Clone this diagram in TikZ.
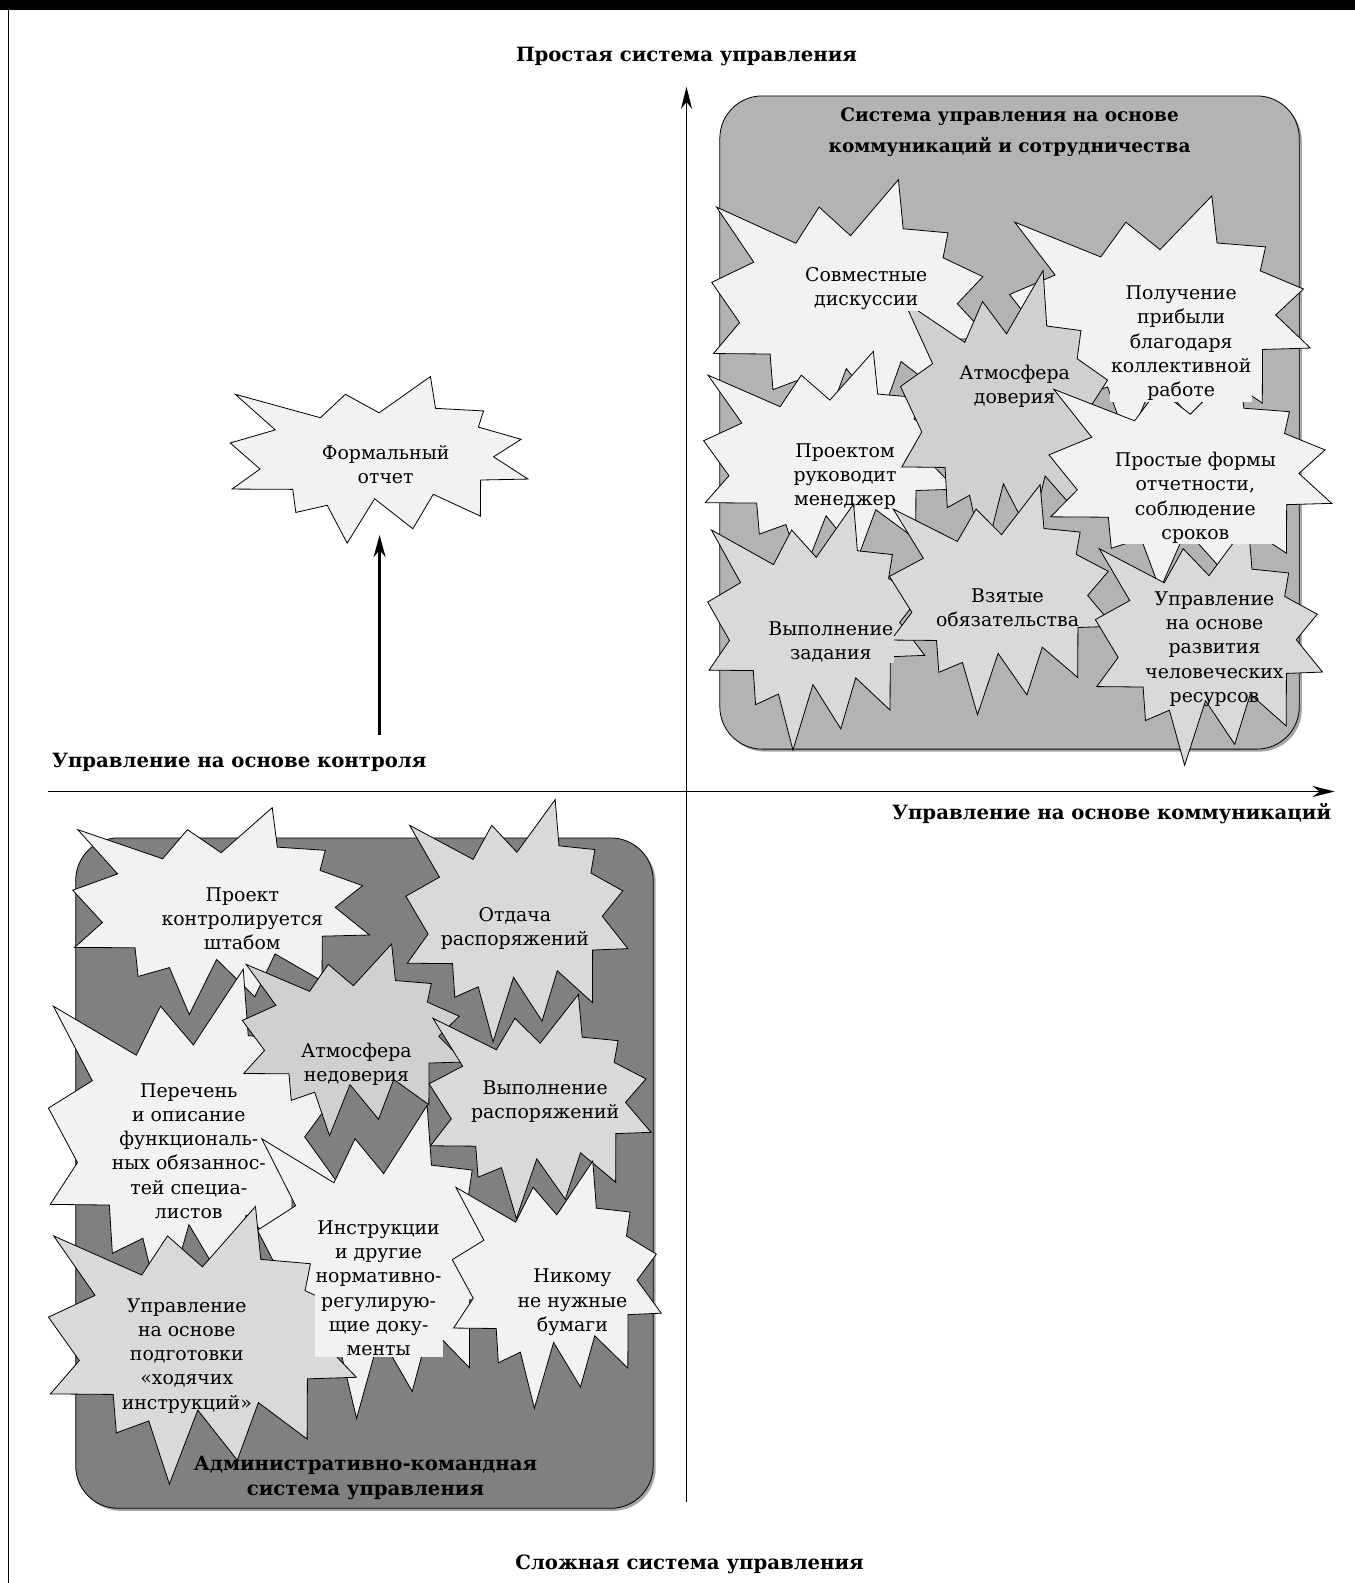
\documentclass[tikz,border=0pt]{standalone}
\usepackage{fontspec}
\setmainfont{DejaVu Serif}
\usetikzlibrary{arrows.meta,shadows}

\definecolor{burstlight}{HTML}{F2F2F2}
\definecolor{burstmid}{HTML}{D9D9D9}
\definecolor{burstdark}{HTML}{D0D0D0}
\definecolor{panellight}{HTML}{B3B3B3}
\definecolor{paneldark}{HTML}{808080}

% outline of an irregular twelve-point explosion in a 100 x 100 box
\newcommand\explosionpath{(50,21.76) -- (67.23,0) -- (68.95,19.07) -- (85.09,20.63)
  -- (83.33,30.32) -- (97.67,37.67) -- (88.44,48.17) -- (100,61.53)
  -- (84.10,62.10) -- (84.00,83.77) -- (68.19,70.65) -- (61.33,91.38)
  -- (48.49,73.35) -- (39.28,100) -- (32.58,77.27) -- (22.05,81.56)
  -- (21.01,67.71) -- (0.63,67.53) -- (10.02,55.50) -- (0,39.88)
  -- (15.13,32.02) -- (1.71,10.63) -- (30.30,24.70) -- (38.67,10.63) -- cycle}

\tikzset{
  explosion/.style n args={4}{draw=black, line width=0.8pt, line join=miter,
    shift={(#1,#2)}, xscale=#3/100, yscale=#4/100},
  burstlabel/.style={align=center, inner sep=1pt,
    font=\fontsize{18.7}{24}\selectfont},
  lightlabel/.style={burstlabel, fill=burstlight},
  midlabel/.style={burstlabel, fill=burstmid},
  panel/.style={draw=black, line width=0.8pt, rounded corners=42pt,
    drop shadow={shadow xshift=2.5pt, shadow yshift=-2.5pt, fill=black!70}},
  heading/.style={font=\bfseries\fontsize{19.5}{24}\selectfont, align=center},
  axis/.style={line width=0.9pt, -{Stealth[length=22pt,width=11pt]}},
}

\begin{document}
\begin{tikzpicture}[x=1pt,y=-1pt]
\useasboundingbox (0,0) rectangle (1342,1568);
% page frame: black band on top, rule on the left
\fill[black] (0,0) rectangle (1342,10);
\draw[line width=1pt] (8,10) -- (8,1568);

% quadrant panels
\node[panel, fill=panellight, minimum width=574pt, minimum height=647pt]
  (coop) at (1000,418.5) {};
\node[panel, fill=paneldark, minimum width=572pt, minimum height=664pt]
  (admin) at (361,1162) {};

\node[heading, font=\bfseries\fontsize{18.3}{30}\selectfont] (cooptitle) at (1000,131)
  {Система управления на основе\\коммуникаций и сотрудничества};
\node[heading] (admintitle) at (362,1464) {Административно-командная\\система управления};

% axes
\coordinate (vbot) at (680,1488);
\coordinate (vtop) at (680,86);
\coordinate (hleft) at (48,784);
\coordinate (hright) at (1322,784);
\draw[axis] (vbot) -- (vtop);
\draw[axis] (hleft) -- (hright);

\node[heading] (simple) at (680,56) {Простая система управления};
\node[heading] (complex) at (683,1550) {Сложная система управления};
\node[heading, anchor=west] (control) at (48,755) {Управление на основе контроля};
\node[heading, anchor=east] (comm) at (1322,806) {Управление на основе коммуникаций};

% explosion outlines, back to front
\filldraw[explosion={228}{373}{295}{165}, fill=burstlight] \explosionpath;
% upper right quadrant
\filldraw[explosion={705}{178}{275}{255}, fill=burstlight] \explosionpath;
\filldraw[explosion={1000}{194}{298}{245}, fill=burstlight] \explosionpath;
\filldraw[explosion={697}{348}{250}{222}, fill=burstlight] \explosionpath;
\filldraw[explosion={892}{268}{210}{288}, fill=burstdark] \explosionpath;
\filldraw[explosion={1039}{362}{280}{222}, fill=burstlight] \explosionpath;
\filldraw[explosion={701}{499}{215}{244}, fill=burstmid] \explosionpath;
\filldraw[explosion={881}{480}{222}{228}, fill=burstmid] \explosionpath;
\filldraw[explosion={1085}{518}{225}{240}, fill=burstmid] \explosionpath;
% lower left quadrant
\filldraw[explosion={72}{800}{294}{205}, fill=burstlight] \explosionpath;
\filldraw[explosion={402}{792}{220}{240}, fill=burstmid] \explosionpath;
\filldraw[explosion={48}{960}{287}{345}, fill=burstlight] \explosionpath;
\filldraw[explosion={240}{935}{220}{190}, fill=burstdark] \explosionpath;
\filldraw[explosion={425}{985}{220}{222}, fill=burstmid] \explosionpath;
\filldraw[explosion={255}{1095}{250}{310}, fill=burstlight] \explosionpath;
\filldraw[explosion={448}{1150}{207}{245}, fill=burstlight] \explosionpath;
\filldraw[explosion={48}{1195}{305}{275}, fill=burstmid] \explosionpath;

% labels
\node[burstlabel] (formal) at (382,460) {Формальный\\отчет};
\node[lightlabel] (joint) at (858,286) {Совместные\\дискуссии};
\node[lightlabel] (profit) at (1170,340) {Получение\\прибыли\\благодаря\\коллективной\\работе};
\node[burstlabel] (manager) at (837,472) {Проектом\\руководит\\менеджер};
\node[burstlabel] (trust) at (1005,383) {Атмосфера\\доверия};
\node[lightlabel] (forms) at (1184,493) {Простые формы\\отчетности,\\соблюдение\\сроков};
\node[midlabel] (task) at (823,636) {Выполнение\\задания};
\node[burstlabel] (duty) at (998,602) {Взятые\\обязательства};
\node[burstlabel] (hr) at (1203,643) {Управление\\на основе\\развития\\человеческих\\ресурсов};
\node[burstlabel] (staff) at (240,910) {Проект\\контролируется\\штабом};
\node[burstlabel] (orders) at (510,920) {Отдача\\распоряжений};
\node[burstlabel] (duties) at (187,1140) {Перечень\\и описание\\функциональ-\\ных обязаннос-\\тей специа-\\листов};
\node[burstlabel] (distrust) at (353,1054) {Атмосфера\\недоверия};
\node[burstlabel] (execute) at (540,1091) {Выполнение\\распоряжений};
\node[lightlabel] (rules) at (375,1276) {Инструкции\\и другие\\нормативно-\\регулирую-\\щие доку-\\менты};
\node[burstlabel] (papers) at (567,1290) {Никому\\не нужные\\бумаги};
\node[burstlabel] (walking) at (185,1343) {Управление\\на основе\\подготовки\\«ходячих\\инструкций»};

% arrow leading to the formal report
\coordinate (formalfoot) at (376,728);
\coordinate (formaltip) at (376,530);
\draw[line width=2.4pt, -{Stealth[length=22pt,width=12pt]}] (formalfoot) -- (formaltip);
\end{tikzpicture}
\end{document}
